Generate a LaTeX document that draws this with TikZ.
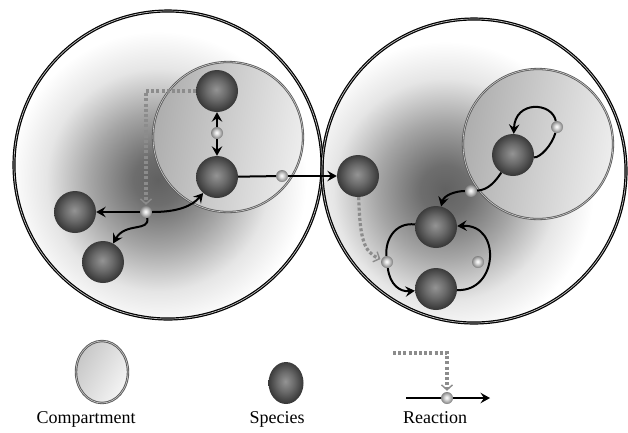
\documentclass[tikz,border=0pt]{standalone}
\usepackage{fontspec}
\setmainfont{Liberation Serif}
\usetikzlibrary{arrows.meta}
\pgfdeclareradialshading{compsh}{\pgfpoint{0bp}{0bp}}{color(0bp)=(black!62); color(4bp)=(black!57); color(11bp)=(black!35); color(18bp)=(black!10); color(24bp)=(white); color(50bp)=(white)}
\pgfdeclareradialshading{sphsh}{\pgfpoint{-1bp}{2bp}}{color(0bp)=(black!42); color(12bp)=(black!58); color(25bp)=(black!78); color(50bp)=(black!78)}
\pgfdeclareradialshading{rxsh}{\pgfpoint{-2bp}{2bp}}{color(0bp)=(white); color(9bp)=(black!15); color(25bp)=(black!50); color(50bp)=(black!50)}
\begin{document}
\begin{tikzpicture}[x=1pt,y=-1pt,
  bigcomp/.style={draw=black, line width=1.2pt, double=white!75!black, double distance=0.7pt},
  smallcomp/.style={draw=black!65, line width=0.8pt, double=black!20, double distance=0.6pt, left color=black!32, right color=black!7, shading angle=80},
  species/.style={circle, minimum size=42pt, inner sep=0pt, shading=sphsh},
  rxn/.style={circle, minimum size=12pt, inner sep=0pt, shading=rxsh},
  ln/.style={line width=2pt},
  arr/.style={line width=2pt, -{Stealth[length=9.5pt,width=10.5pt,inset=3.5pt]}},
  modl/.style={draw=black!45, line width=3.2pt, dash pattern=on 3pt off 2.2pt,
     -{Straight Barb[length=5pt,width=11pt,line width=1.4pt]}, shorten >=1pt},
  lbl/.style={font=\fontsize{18}{20}\selectfont, anchor=base}]
\useasboundingbox (0,0) rectangle (628,432);
% big compartments: fills
\fill[white] (168,165) circle (154);
\fill[white] (474,171) circle (152);
\begin{scope}
  \clip (168,165) circle (154);
  \shade[shading=compsh] (158,180) circle (155);
\end{scope}
\begin{scope}
  \clip (474,171) circle (152);
  \shade[shading=compsh] (445,190) circle (155);
\end{scope}
\draw[bigcomp] (168,165) circle (154);
\draw[bigcomp] (474,171) circle (152);
% inner compartments
\path[smallcomp] (228,137) circle (75);
\path[smallcomp] (538,144) circle (75);
% species
\node[species] (s1) at (217,91) {};
\node[species] (s2) at (217,177) {};
\node[species] (s3) at (75,212) {};
\node[species] (s4) at (103,262) {};
\node[species] (s5) at (358,176) {};
\node[species] (s6) at (513,155) {};
\node[species] (s7) at (436,227) {};
\node[species] (s8) at (436,289) {};
% reactions
\node[rxn] (r1) at (217,133) {};
\node[rxn] (r2) at (146,212) {};
\node[rxn] (r3) at (282,176) {};
\node[rxn] (r4) at (557,127) {};
\node[rxn] (r5) at (471,191) {};
\node[rxn] (r6) at (387,262) {};
\node[rxn] (r7) at (478,262) {};
% left connectors
\draw[modl] (s1) -| (r2);
\draw[arr] (r1) -- (s1);
\draw[arr] (r1) -- (s2);
\draw[arr] (r2) -- (s3);
\draw[arr] (r2) .. controls (150,232) and (125,222) .. (s4);
\draw[arr] (r2) .. controls (178,212) and (192,206) .. (s2);
\draw[ln] (s2) -- (r3);
\draw[arr] (r3) -- (s5);
% right connectors
\draw[modl] (s5) .. controls (360,240) and (364,252) .. (r6);
\draw[ln] (s6) .. controls (540,158) and (552,145) .. (r4);
\draw[arr] (r4) .. controls (552,102) and (515,100) .. (s6);
\draw[ln] (s6) .. controls (495,182) and (488,190) .. (r5);
\draw[arr] (r5) .. controls (456,191) and (444,195) .. (s7);
\draw[ln] (s7) .. controls (395,222) and (385,240) .. (r6);
\draw[arr] (r6) .. controls (390,285) and (400,292) .. (s8);
\draw[arr] (s8) .. controls (498,292) and (502,224) .. (s7);
% legend
\path[draw=black!65, line width=0.9pt, double=black!20, double distance=0.6pt, left color=black!22, right color=black!4, shading angle=60] (102,372) ellipse (26 and 31);
\path[shading=sphsh] (286,383) ellipse (17.5 and 21);
\node[rxn] (lr) at (447,398) {};
\coordinate (la) at (406,398);
\coordinate (lb) at (490,398);
\coordinate (lm) at (393,353);
\draw[ln] (la) -- (lr);
\draw[arr] (lr) -- (lb);
\draw[modl] (lm) -| (lr);
\node[lbl] (t1) at (86,423) {Compartment};
\node[lbl] (t2) at (277,423) {Species};
\node[lbl] (t3) at (435,423) {Reaction};
\end{tikzpicture}
\end{document}
